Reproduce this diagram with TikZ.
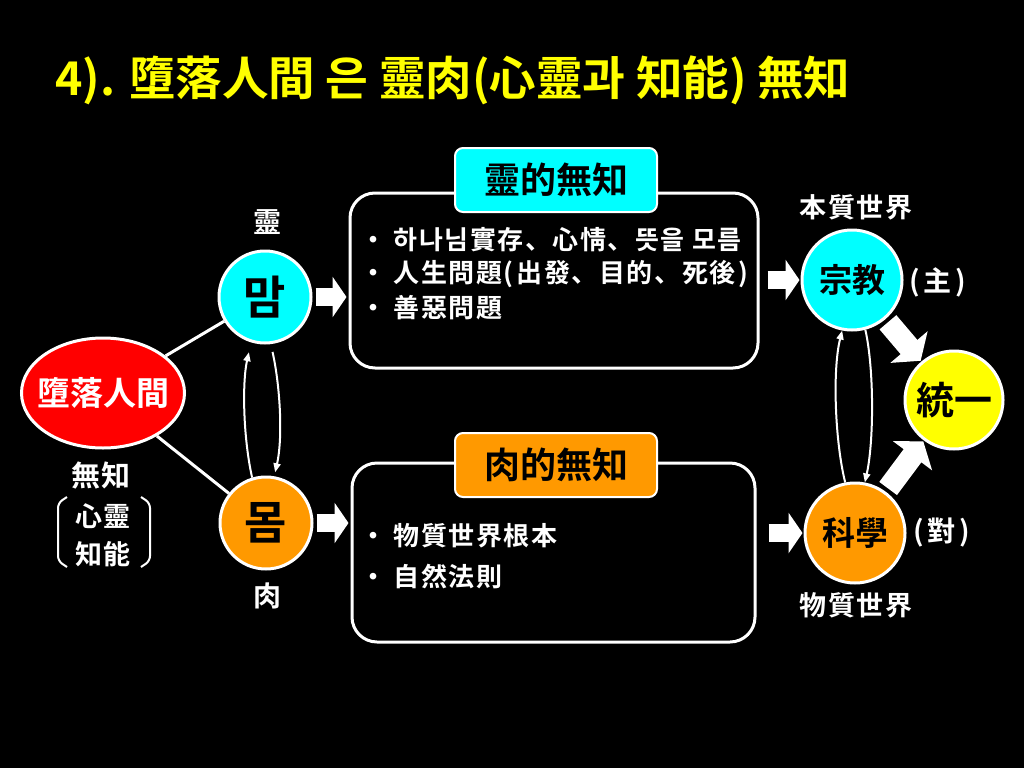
\documentclass[tikz,border=0pt]{standalone}
\usepackage{fontspec}
\setmainfont{Noto Sans CJK KR}[BoldFont={* Bold}]
\usetikzlibrary{shapes.geometric,arrows.meta}
\definecolor{cy}{HTML}{00FFFF}
\definecolor{og}{HTML}{FF9900}
\definecolor{ye}{HTML}{FFFF00}
\definecolor{rd}{HTML}{FF0000}
\newcommand{\fsz}[1]{\fontsize{#1}{#1}\selectfont\bfseries}
\newcommand{\spc}{\addfontfeatures{LetterSpace=6}}
\begin{document}
\begin{tikzpicture}[x=1pt,y=-1pt,
  circ/.style={circle, draw=white, line width=3pt, minimum size=#1, inner sep=0pt, text=black},
  lbl/.style={text=white, inner sep=0pt, font=\fsz{#1}\spc},
  wline/.style={white, line width=3pt},
  thinarr/.style={white, line width=2pt, -{Triangle[length=9pt,width=7pt]}},
  blk/.style={white, line width=18pt, -{Triangle[width=40pt,length=14pt]}},
  bigblk/.style={white, line width=22pt, -{Triangle[width=48pt,length=18pt]}},
  bigbox/.style={draw=white, line width=3pt, rounded corners=25pt, fill=black},
  tagbox/.style={draw=white, line width=2pt, rounded corners=8pt, minimum width=202pt, minimum height=64pt, text=black, font=\fsz{36}},
  item/.style={anchor=west, text=white, inner sep=0pt, font=\fsz{26}\spc}]
\fill[black] (0,0) rectangle (1024,768);
\useasboundingbox (0,0) rectangle (1024,768);

% title
\node[anchor=west, text=ye, inner sep=0pt, font=\fsz{46.5}] (title) at (55,80) {4). 墮落人間 은 靈肉(心靈과 知能) 無知};

% left part
\node[ellipse, draw=white, line width=3pt, fill=rd, minimum width=163pt, minimum height=110pt, inner sep=-10pt, text=white, font=\fsz{33}] (fall) at (103,393) {墮落人間};
\node[circ=92pt, fill=cy, font=\fsz{46}] (maam) at (265,297) {맘};
\node[circ=92pt, fill=og, font=\fsz{46}] (mom) at (266,523) {몸};
\node[lbl=28] (lyeong) at (267,222) {靈};
\node[lbl=28] (yuk) at (267,596) {肉};
\node[lbl=29] (muji) at (101,475) {無知};
\node[lbl=27] (simryeong) at (103,516) {心靈};
\node[lbl=27] (jineung) at (103,554) {知能};
\draw[white, line width=2pt, rounded corners=5pt] (67,497) -- (58,503) -- (58,561) -- (67,567);
\draw[white, line width=2pt, rounded corners=5pt] (141,497) -- (150,503) -- (150,561) -- (141,567);

\draw[wline] (fall) -- (maam);
\draw[wline] (fall) -- (mom);
\draw[thinarr, shorten >=10pt] (mom.107) .. controls +(-9,-40) and +(-9,40) .. (maam.253);
\draw[thinarr, shorten <=8pt, shorten >=4pt] (maam.277) .. controls +(9,40) and +(9,-40) .. (mom.80);

% boxes
\node[bigbox, minimum width=408pt, minimum height=175pt] (box1) at (554,280.5) {};
\node[tagbox, fill=cy] (tag1) at (556,180) {靈的無知};
\node[item] (a1) at (360,240) {・ 하나님實存、心情、뜻을 모름};
\node[item] (a2) at (360,274) {・ 人生問題(\kern3pt 出發、目的、死後\kern3pt)};
\node[item] (a3) at (360,308) {・ 善惡問題};

\node[bigbox, minimum width=403pt, minimum height=179pt] (box2) at (553.5,552.5) {};
\node[tagbox, fill=og] (tag2) at (556,465) {肉的無知};
\node[item] (b1) at (360,536) {・ 物質世界根本};
\node[item] (b2) at (360,577) {・ 自然法則};

\draw[blk, shorten <=3pt, shorten >=2pt] (maam.east) -- (maam.east -| box1.west);
\draw[blk, shorten <=3pt, shorten >=2pt] (mom.east) -- (mom.east -| box2.west);

% right part
\node[circ=100pt, fill=cy, font=\fsz{33}] (jong) at (852,280) {宗教};
\node[circ=100pt, fill=og, font=\fsz{33}] (gwa) at (855,533) {科學};
\node[circ=98pt, fill=ye, font=\fsz{38}] (tong) at (954,400) {統一};
\node[lbl=27] (bonjil) at (856,207) {本質世界};
\node[lbl=27] (muljil) at (856,605) {物質世界};
\node[lbl=28] (ju) at (938,282) {(\kern4pt 主\kern4pt)};
\node[lbl=28] (dae) at (942,533) {(\kern4pt 對\kern4pt)};

\draw[blk, shorten <=8pt, shorten >=1pt] (jong.west -| box1.east) -- (jong.west);
\draw[blk, shorten <=12pt, shorten >=1pt] (gwa.west -| box2.east) -- (gwa.west);
\draw[bigblk, shorten <=4pt, shorten >=1pt] (jong) -- (tong);
\draw[bigblk, shorten <=4pt, shorten >=1pt] (gwa) -- (tong);
\draw[thinarr] (gwa.101) .. controls +(-10,-40) and +(-10,40) .. (jong.259);
\draw[thinarr] (jong.285) .. controls +(9,40) and +(9,-40) .. (gwa.79);
\end{tikzpicture}
\end{document}
